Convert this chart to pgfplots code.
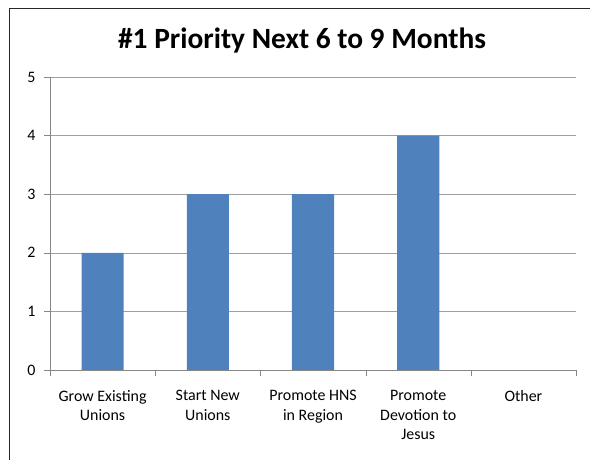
\documentclass[border=0pt]{standalone}
\usepackage{fontspec}
\setmainfont{Carlito}
\usepackage{pgfplots}
\pgfplotsset{compat=1.18}
\definecolor{barblue}{HTML}{4F81BD}
\definecolor{axisgray}{HTML}{868686}
\begin{document}
\begin{tikzpicture}[x=1bp,y=1bp]
\useasboundingbox (0,0) rectangle (590,460);
% chart frame (cut on the right and bottom)
\draw[line width=1.5bp, black!85] (9.5,0) -- (9.5,451.5) -- (590,451.5);
\node[font=\bfseries\fontsize{29.5}{34}\selectfont] at (302,419) {\#1 Priority Next 6 to 9 Months};
\begin{axis}[
  at={(50bp,90bp)}, anchor=south west,
  width=526bp, height=293bp, scale only axis,
  ymin=0, ymax=5, ytick={0,...,5},
  xmin=-0.5, xmax=4.5,
  axis x line*=bottom, axis y line*=left,
  axis line style={axisgray,-},
  ymajorgrids, grid style={axisgray!80},
  tick align=outside,
  major tick length=6bp, minor tick length=6bp,
  tick style={axisgray},
  xtick={0,...,4},
  xticklabels={Grow Existing\\Unions, Start New\\Unions, Promote HNS\\in Region, Promote\\Devotion to\\Jesus, Other},
  major x tick style={draw=none},
  minor xtick={-0.5,0.5,...,4.5},
  xticklabel style={align=center, anchor=north, yshift=-11bp, font=\fontsize{16}{19.5}\selectfont},
  yticklabel style={xshift=-5bp, font=\fontsize{16}{19}\selectfont},
  /pgf/number format/assume math mode=true,
  ybar, bar width=0.4,
]
% Other = 0, so no bar is drawn for it
\addplot[fill=barblue, draw=none] coordinates {(0,2) (1,3) (2,3) (3,4)};
\end{axis}
\end{tikzpicture}
\end{document}
